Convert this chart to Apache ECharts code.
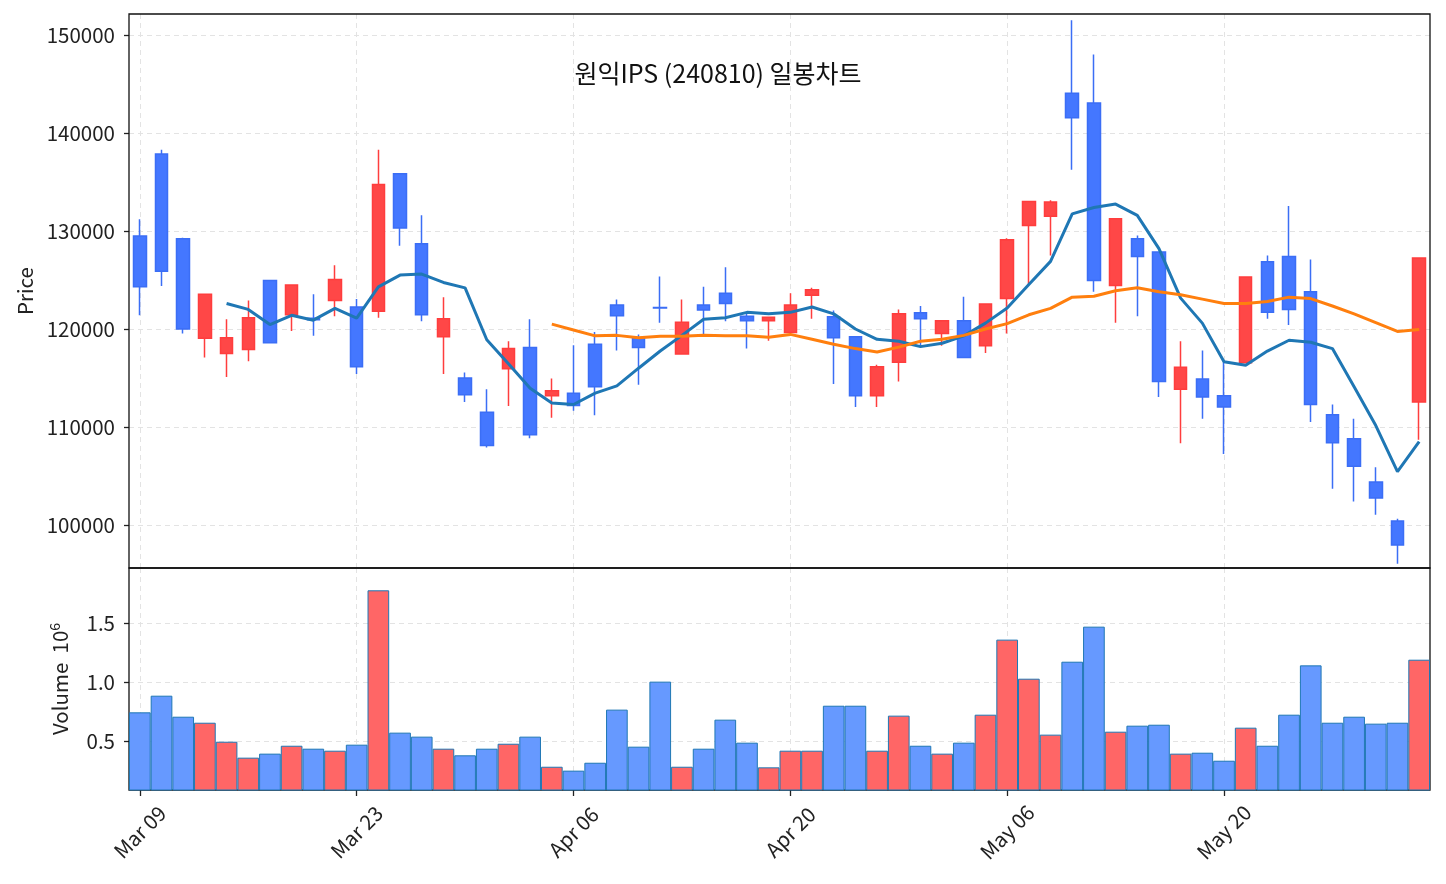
<!DOCTYPE html>
<html>
<head>
<meta charset="utf-8">
<script src="https://cdn.jsdelivr.net/npm/echarts@6/dist/echarts.min.js"></script>
<style>
  html, body { margin: 0; padding: 0; background: #fff; }
  #chart { width: 1446px; height: 884px; }
</style>
</head>
<body>
<div id="chart"></div>
<script>
const dates = [
  "Mar 09", "Mar 10", "Mar 11", "Mar 12", "Mar 13", "Mar 16", "Mar 17", "Mar 18", "Mar 19", "Mar 20",
  "Mar 23", "Mar 24", "Mar 25", "Mar 26", "Mar 27", "Mar 30", "Mar 31", "Apr 01", "Apr 02", "Apr 03",
  "Apr 06", "Apr 07", "Apr 08", "Apr 09", "Apr 10", "Apr 13", "Apr 14", "Apr 15", "Apr 16", "Apr 17",
  "Apr 20", "Apr 21", "Apr 22", "Apr 23", "Apr 24", "Apr 27", "Apr 28", "Apr 29", "Apr 30", "May 04",
  "May 06", "May 07", "May 08", "May 11", "May 12", "May 13", "May 14", "May 15", "May 18", "May 19",
  "May 20", "May 21", "May 22", "May 26", "May 27", "May 28", "May 29", "Jun 01", "Jun 02", "Jun 04"
];

const opens = [
  129500, 137850, 129200, 119050, 117500, 117900, 124950, 121450, 121100, 122900,
  122250, 121800, 135850, 128700, 119200, 115000, 111500, 115950, 118100, 113200,
  113450, 118450, 122450, 119100, 122200, 117450, 122450, 123650, 121300, 120850,
  119650, 123450, 121250, 119200, 113200, 116600, 121650, 119550, 120850, 118300,
  123100, 130550, 131500, 144050, 143050, 124450, 129200, 127850, 113850, 114900,
  113200, 116550, 126850, 127400, 123800, 111250, 108800, 104400, 100400, 112550
];
const closes = [
  124300, 125900, 120000, 123550, 119100, 121150, 118600, 124500, 120950, 125050,
  116150, 134750, 130300, 121450, 121050, 113300, 108100, 118000, 109200, 113700,
  112200, 114100, 121350, 118100, 122150, 120700, 121950, 122600, 120850, 121200,
  122450, 124000, 119100, 113200, 116150, 121550, 121050, 120850, 117100, 122550,
  129100, 133000, 132950, 141550, 124950, 131250, 127400, 114650, 116100, 113050,
  112050, 125300, 121700, 122000, 112300, 108400, 106000, 102750, 97950, 127250
];
const lows = [
  121400, 124400, 119550, 117100, 115100, 116700, 118600, 119800, 119300, 121300,
  115400, 121150, 128500, 120800, 115400, 112550, 107900, 112150, 108850, 110950,
  111650, 111200, 117800, 114300, 120650, 117400, 119350, 120800, 118000, 118800,
  119550, 121050, 114400, 112050, 112050, 114650, 118300, 118300, 117100, 117550,
  119550, 124600, 127500, 136250, 123800, 120650, 121300, 113050, 108350, 110850,
  107250, 116550, 121050, 120400, 110500, 103700, 102400, 101050, 96050, 108700
];
const highs = [
  131200, 138300, 129300, 123550, 121000, 122900, 124950, 124500, 123550, 126500,
  123050, 138300, 135850, 131600, 123250, 115550, 113850, 118750, 121000, 114950,
  118350, 119700, 123000, 119450, 125350, 123000, 124300, 126300, 121700, 121200,
  123650, 124200, 121900, 119200, 116350, 122000, 122350, 120850, 123300, 122550,
  129250, 133000, 133150, 151500, 148000, 131250, 129550, 127850, 118750, 117800,
  116600, 125300, 127500, 132550, 127100, 112300, 110850, 105900, 100650, 127250
];
const volumes = [
  743000, 884000, 706000, 655000, 494000, 359000, 393000, 460000, 435000, 418000,
  469000, 1777000, 571000, 537000, 435000, 379000, 435000, 477000, 537000, 282000,
  249000, 316000, 766000, 452000, 1003000, 282000, 435000, 681000, 486000, 277000,
  418000, 418000, 799000, 799000, 418000, 715000, 460000, 393000, 486000, 723000,
  1359000, 1028000, 554000, 1172000, 1469000, 579000, 630000, 638000, 393000, 401000,
  333000, 613000, 460000, 723000, 1141000, 655000, 706000, 647000, 655000, 1189000
];
// 5일 / 20일 이동평균
const ma5 = [
  "-", "-", "-", "-", 122600, 122000, 120450, 121400, 120900, 122100,
  121100, 124300, 125500, 125600, 124750, 124200, 118900, 116450, 113950, 112450,
  112300, 113450, 114200, 116000, 117750, 119350, 121000, 121150, 121700, 121550,
  121700, 122250, 121550, 120000, 118950, 118750, 118200, 118550, 119300, 120600,
  122150, 124550, 126900, 131750, 132400, 132750, 131600, 128200, 123150, 120600,
  116650, 116300, 117750, 118850, 118650, 118000, 114100, 110150, 105450, 108500
];
const ma20 = [
  "-", "-", "-", "-", "-", "-", "-", "-", "-", "-",
  "-", "-", "-", "-", "-", "-", "-", "-", "-", 120500,
  119900, 119300, 119350, 119100, 119250, 119250, 119350, 119300, 119300, 119150,
  119450, 118950, 118450, 118000, 117650, 118150, 118750, 118950, 119350, 120000,
  120550, 121450, 122100, 123250, 123350, 123900, 124200, 123800, 123500, 123050,
  122600, 122600, 122800, 123250, 123100, 122350, 121550, 120650, 119750, 119950
];
const priceTicks = [100000, 110000, 120000, 130000, 140000, 150000];
const volumeTicks = [500000, 1000000, 1500000];

const FONT = "Noto Sans CJK KR";
const UP = "#ff4747";
const DOWN = "#4477ff";

const candleData = opens.map((o, i) => [o, closes[i], lows[i], highs[i]]);
const volumeData = volumes.map((v, i) => ({
  value: v,
  itemStyle: { color: closes[i] >= opens[i] ? "#ff6666" : "#6699ff" }
}));

const gridLine = { show: true, lineStyle: { color: "#e3e3e3", type: [5, 4], width: 1 } };
const tickLabel = { fontFamily: FONT, fontSize: 20.5, color: "#222" };
const yTick = { show: true, length: 5, lineStyle: { color: "#222", width: 1.3 } };

const chart = echarts.init(document.getElementById("chart"), null, { renderer: "canvas" });

chart.setOption({
  animation: false,
  backgroundColor: "#fff",
  title: {
    text: "원익IPS (240810) 일봉차트",
    left: 713,
    top: 56,
    textAlign: "center",
    textStyle: { fontFamily: FONT, fontSize: 25, fontWeight: "normal", color: "#111" }
  },
  grid: [
    { left: 129, right: 16, top: 14, height: 554, show: true, z: 1, borderColor: "#111", borderWidth: 1.3, backgroundColor: "transparent" },
    { left: 129, right: 16, top: 568, height: 222, show: true, z: 1, borderColor: "#111", borderWidth: 1.3, backgroundColor: "transparent" }
  ],
  xAxis: [
    {
      type: "category",
      gridIndex: 0,
      data: dates,
      boundaryGap: true,
      axisLine: { show: false },
      axisTick: { show: false },
      axisLabel: { show: false },
      splitLine: Object.assign({ interval: 9, alignWithLabel: true }, gridLine)
    },
    {
      type: "category",
      gridIndex: 1,
      data: dates,
      boundaryGap: true,
      axisLine: { show: false },
      axisTick: { show: true, interval: 9, alignWithLabel: true, length: 6, lineStyle: { color: "#222", width: 1.3 } },
      axisLabel: Object.assign({ interval: 9, rotate: 45, margin: 42, align: "center", verticalAlign: "middle" }, tickLabel),
      splitLine: Object.assign({ interval: 9, alignWithLabel: true }, gridLine)
    }
  ],
  yAxis: [
    {
      type: "value",
      gridIndex: 0,
      min: 95612,
      max: 152143,
      splitNumber: 5,
      name: "Price",
      nameLocation: "middle",
      nameGap: 94,
      nameTextStyle: { fontFamily: FONT, fontSize: 20.5, color: "#222" },
      axisLine: { show: false },
      axisTick: Object.assign({ customValues: priceTicks }, yTick),
      axisLabel: Object.assign({
        margin: 14,
        customValues: priceTicks,
        formatter: v => (v % 10000 === 0 ? String(v) : "")
      }, tickLabel),
      splitLine: gridLine
    },
    {
      type: "value",
      gridIndex: 1,
      min: 85000,
      max: 1966000,
      splitNumber: 4,
      name: "Volume  10{s|6}",
      nameLocation: "middle",
      nameGap: 57,
      nameTextStyle: {
        fontFamily: FONT, fontSize: 20.5, color: "#222",
        rich: { s: { fontFamily: FONT, fontSize: 14, color: "#222", verticalAlign: "top", padding: [0, 0, 10, 0] } }
      },
      axisLine: { show: false },
      axisTick: Object.assign({ customValues: volumeTicks }, yTick),
      axisLabel: Object.assign({
        margin: 14,
        customValues: volumeTicks,
        formatter: v => (v % 500000 === 0 ? (v / 1e6).toFixed(1) : "")
      }, tickLabel),
      splitLine: gridLine
    }
  ],
  series: [
    {
      name: "일봉",
      type: "candlestick",
      xAxisIndex: 0,
      yAxisIndex: 0,
      data: candleData,
      barWidth: 13,
      itemStyle: {
        color: UP,
        color0: DOWN,
        borderColor: "#ff3d3d",
        borderColor0: "#3b6ef5",
        borderWidth: 1.5
      },
      z: 3
    },
    {
      name: "MA5",
      type: "line",
      xAxisIndex: 0,
      yAxisIndex: 0,
      data: ma5,
      showSymbol: false,
      lineStyle: { color: "#1f77b4", width: 3 },
      z: 4
    },
    {
      name: "MA20",
      type: "line",
      xAxisIndex: 0,
      yAxisIndex: 0,
      data: ma20,
      showSymbol: false,
      lineStyle: { color: "#ff7f0e", width: 3 },
      z: 4
    },
    {
      name: "Volume",
      type: "bar",
      xAxisIndex: 1,
      yAxisIndex: 1,
      data: volumeData,
      barWidth: "100%",
      barCategoryGap: 0,
      itemStyle: { borderColor: "#1f77b4", borderWidth: 1 }
    }
  ]
});
</script>
</body>
</html>
